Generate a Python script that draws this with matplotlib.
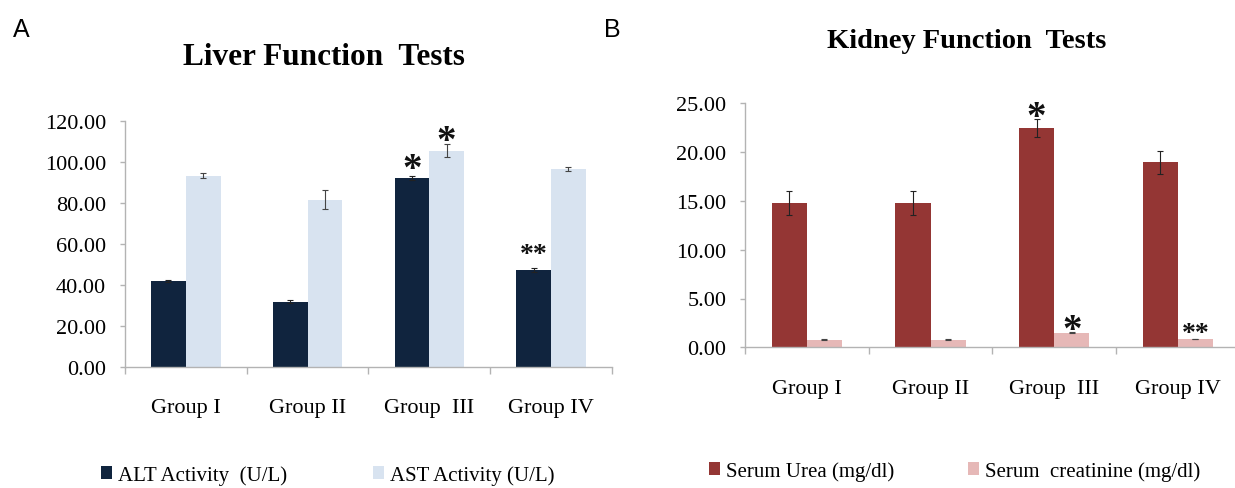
import matplotlib
matplotlib.use("Agg")
import matplotlib.pyplot as plt
from matplotlib.patches import Patch
import numpy as np

plt.rcParams["font.family"] = "Liberation Serif"

groups = ["Group I", "Group II", "Group  III", "Group IV"]

# liver panel (U/L)
alt_mean = [41.8, 31.7, 92.0, 47.2]
alt_err = [0.4, 0.6, 0.8, 0.8]
ast_mean = [93.2, 81.5, 105.4, 96.5]
ast_err = [1.2, 4.5, 3.0, 1.0]
liver_stars = [(2, 0, "*", 101.0), (2, 1, "*", 114.5), (3, 0, "**", 58.5)]

# kidney panel (mg/dl)
urea_mean = [14.8, 14.8, 22.45, 18.95]
urea_err = [1.2, 1.2, 0.95, 1.15]
creat_mean = [0.76, 0.76, 1.5, 0.85]
creat_err = [0.04, 0.04, 0.08, 0.04]
kidney_stars = [(2, 0, "*", 24.6), (2, 1, "*", 2.72), (3, 1, "**", 2.2)]

W, H = 1235, 489
fig = plt.figure(figsize=(W / 100, H / 100), dpi=100)

axis_col = "#b3b3b3"
bw = 0.285
x = np.arange(len(groups))


def px(xp, yp):
    return xp / W, 1 - yp / H


def panel(ax, m1, e1, c1, m2, e2, c2, ymax, ystep, stars):
    ax.bar(x - bw / 2, m1, bw, color=c1, zorder=2)
    ax.bar(x + bw / 2, m2, bw, color=c2, zorder=2)
    ax.errorbar(x - bw / 2, m1, yerr=e1, fmt="none", ecolor="#222222",
                elinewidth=0.8, capsize=2, capthick=0.8, zorder=3)
    ax.errorbar(x + bw / 2, m2, yerr=e2, fmt="none", ecolor="#444444",
                elinewidth=0.8, capsize=2, capthick=0.8, zorder=3)
    for g, s, txt, yv in stars:
        xs = g - bw / 2 if s == 0 else g + bw / 2
        fs = 28 if txt == "*" else 20
        ax.annotate(txt, (xs, yv), xytext=(0, -0.5 * fs), textcoords="offset points",
                    ha="center", va="baseline", fontsize=fs, fontweight="bold",
                    color="#111111")
    ax.set_xlim(-0.5, len(groups) - 0.5)
    ax.set_ylim(0, ymax)
    ax.set_yticks(np.arange(0, ymax + 0.01, ystep))
    ax.set_yticklabels(["%.2f" % v for v in np.arange(0, ymax + 0.01, ystep)])
    ax.set_xticks(x)
    ax.set_xticklabels(groups)
    ax.set_xticks(np.arange(-0.5, len(groups)), minor=True)
    ax.tick_params(axis="x", which="major", length=0, pad=22.5, labelsize=16)
    ax.tick_params(axis="x", which="minor", length=5, width=1, color=axis_col)
    ax.tick_params(axis="y", length=3.5, width=1, color=axis_col, pad=10, labelsize=16)
    for sp in ["top", "right"]:
        ax.spines[sp].set_visible(False)
    for sp in ["left", "bottom"]:
        ax.spines[sp].set_color(axis_col)
        ax.spines[sp].set_linewidth(1)


c_alt, c_ast = "#10243e", "#d8e3f0"
c_urea, c_creat = "#943634", "#e6b8b7"

axA = fig.add_axes([125 / W, 1 - 367.7 / H, 486.7 / W, 246 / H])
panel(axA, alt_mean, alt_err, c_alt, ast_mean, ast_err, c_ast, 120, 20, liver_stars)

axB = fig.add_axes([745 / W, 1 - 348.3 / H, 494.7 / W, 244 / H])
panel(axB, urea_mean, urea_err, c_urea, creat_mean, creat_err, c_creat, 25, 5, kidney_stars)

fig.text(*px(324, 65), "Liver Function  Tests", ha="center", va="baseline",
         fontsize=22.5, fontweight="bold")
fig.text(*px(967, 48.3), "Kidney Function  Tests", ha="center", va="baseline",
         fontsize=20.5, fontweight="bold")
fig.text(*px(21, 30), "A", ha="center", va="center", fontsize=18,
         family="Liberation Sans")
fig.text(*px(612, 30), "B", ha="center", va="center", fontsize=18,
         family="Liberation Sans")

# legend entries, one per series
entries = [("ALT Activity  (U/L)", c_alt, 101, 476),
           ("AST Activity (U/L)", c_ast, 373, 476),
           ("Serum Urea (mg/dl)", c_urea, 709, 472),
           ("Serum  creatinine (mg/dl)", c_creat, 968, 472)]
for label, col, lx, ly in entries:
    fig.legend(handles=[Patch(facecolor=col, edgecolor="none", label=label)],
               loc="center left", bbox_to_anchor=px(lx, ly), frameon=False,
               fontsize=15, handlelength=0.55, handleheight=0.55,
               handletextpad=0.25, borderpad=0, borderaxespad=0)

fig.savefig("out.png", dpi=100)
